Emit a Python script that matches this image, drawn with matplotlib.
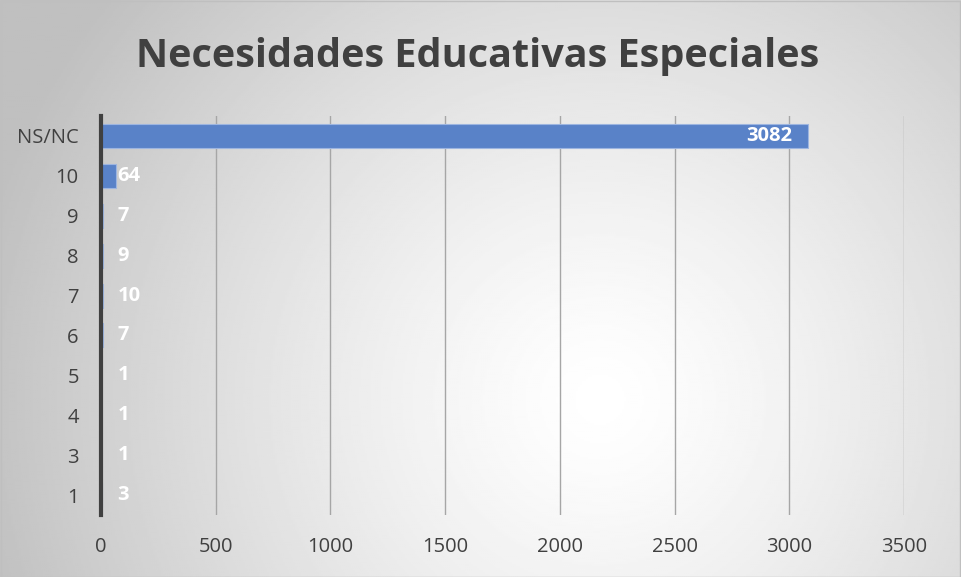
import numpy as np
import matplotlib.pyplot as plt

categories = ['1', '3', '4', '5', '6', '7', '8', '9', '10', 'NS/NC']
values = [3, 1, 1, 1, 7, 10, 9, 7, 64, 3082]
xticks = [0, 500, 1000, 1500, 2000, 2500, 3000, 3500]
title = 'Necesidades Educativas Especiales'

plt.rcParams['font.family'] = ['Open Sans', 'DejaVu Sans']
txt = '#404040'

fig = plt.figure(figsize=(9.61, 5.77), dpi=100)

# radial gradient background
bg = fig.add_axes([0, 0, 1, 1])
gx, gy = np.meshgrid(np.linspace(0, 961, 480), np.linspace(0, 577, 290))
r = np.hypot(gx - 600, gy - 400) / 640
shade = 1.0 - 0.25 * np.clip(r, 0, 1) ** 1.3
bg.imshow(shade, cmap='gray', vmin=0, vmax=1, extent=[0, 961, 0, 577],
          aspect='auto', origin='upper')
bg.set_axis_off()
bg.add_patch(plt.Rectangle((0.5, 0.5), 959.5, 575.5, fill=False,
                           ec='#bfbfbf', lw=1))
bg.set_xlim(0, 961)
bg.set_ylim(0, 577)

ax = fig.add_axes([101 / 961, 1 - 515 / 577, 803 / 961, 399 / 577])
ax.patch.set_alpha(0)
y = np.arange(len(categories))
ax.barh(y, values, height=0.6, color='#5982C8', edgecolor='#9db5e0',
        linewidth=0.8, zorder=3)

for yi, v in zip(y, values):
    if v > 1000:
        ax.text(v - 70, yi, str(v), ha='right', va='center', color='white',
                fontsize=14.5, fontweight='bold', zorder=4)
    else:
        ax.text(72, yi, str(v), ha='left', va='center', color='white',
                fontsize=14.5, fontweight='bold', zorder=4)

ax.set_xlim(0, 3500)
ax.set_ylim(-0.5, len(categories) - 0.5)
ax.set_xticks(xticks)
ax.set_xticklabels([str(t) for t in xticks])
ax.set_yticks(y)
ax.set_yticklabels(categories)
ax.tick_params(axis='both', length=0, labelsize=14.5, colors=txt)
ax.tick_params(axis='x', pad=16)
ax.tick_params(axis='y', pad=16)
ax.grid(axis='x', color='#a6a6a6', lw=1, zorder=0)
for s in ['top', 'right', 'bottom']:
    ax.spines[s].set_visible(False)
ax.spines['left'].set_color(txt)
ax.spines['left'].set_linewidth(3)
ax.spines['left'].set_zorder(5)

fig.text(478 / 961, 1 - 57 / 577, title, ha='center', va='center',
         fontsize=28.5, fontweight='bold', color=txt)

fig.savefig('out.png', dpi=100)
